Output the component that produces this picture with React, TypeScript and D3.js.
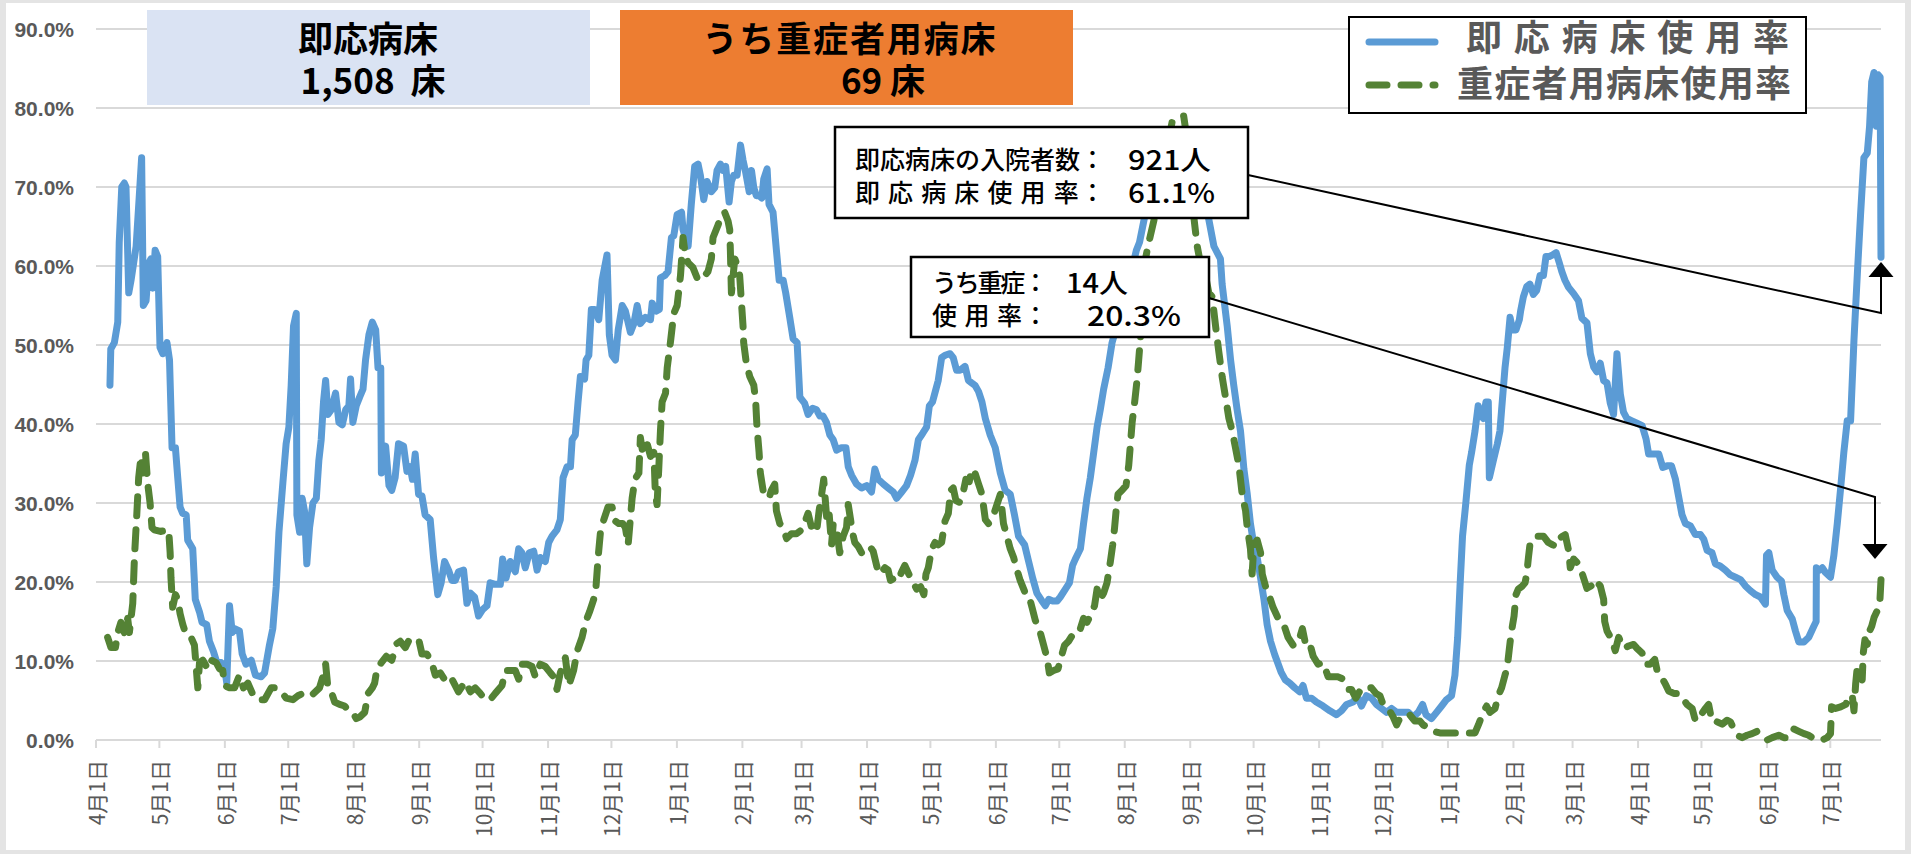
import React from 'react';
import * as d3 from 'd3';

// day offset from 2020-04-01, value in %
const START = Date.UTC(2020, 3, 1);
const DAY_MS = 864e5;
const AXIS_END_DAY = 845;

const bedRate: [number, number][] = [
  [6.6,44.9],[7,49.5],[8.7,50.3],[10.3,52.9],[11,63],[12.2,70],[13.4,70.5],[14.2,70],[15.5,56.6],[16.6,58.2],[19,62.5],[20.5,68.9],[21.6,73.7],[22.4,55],[23.7,55.6],[25,60.4],[26,60.9],[26.9,57.2],[28,62],[29.2,61.2],[30.3,49.7],[31.6,48.9],[33.6,50.3],[34.8,48.1],[36,37],[37.6,37],[38.7,33.2],[39.8,29.5],[41,28.7],[42.7,28.5],[43.4,25.3],[45.8,24.2],[47,17.8],[49,16.2],[50.2,14.9],[52.4,14.6],[53.7,12.5],[55.6,11.2],[57.2,9.8],[59.2,9.8],[60.8,9.3],[61.9,7.2],[63.2,17],[64.5,13.6],[65.6,14.1],[67.9,13.8],[69.2,10.9],[71,9.6],[73.5,10.1],[75.5,8.2],[78.2,8],[79.8,8.5],[82.1,12],[83.7,14.1],[85.3,19.4],[86.6,26.3],[88.5,32.7],[90,37.5],[91.3,39.6],[92.4,44.9],[93.5,52.4],[94.8,54],[95.1,28.5],[96.4,26.3],[97.6,30.6],[98.7,29],[99.8,22.3],[101.1,26.9],[102.7,30],[104.3,30.6],[105.5,35.4],[106.6,38],[107.7,42.8],[108.7,45.5],[109.8,41.2],[111.4,41.8],[113.4,43.9],[115,40.2],[116.6,39.9],[118.2,41.8],[119.7,42.3],[120.5,45.7],[121.6,40.2],[123.2,42.3],[124.8,43.4],[126.4,44.4],[127.6,48.1],[129.2,51.3],[130.8,52.9],[132.4,51.9],[133.5,47.1],[134.8,47.1],[135.1,33.8],[137.1,37.2],[138.7,32.2],
  [140,31.6],[141.6,33.2],[143.2,37.5],[145.6,37.2],[147.2,34],[148.7,34.6],[149.8,33],[151.1,36.2],[152.7,31.1],[154.3,30.9],[155.8,28.5],[158.2,27.9],[159.8,23.1],[161.8,18.4],[163.4,19.9],[165,22.6],[166.9,21.5],[168.5,20.2],[170.1,20.2],[171.6,21.3],[174,21.5],[175.6,17.3],[177.2,18.6],[179.2,18.1],[181.1,15.7],[183,16.5],[185.1,17],[186.6,19.9],[189,19.7],[191.4,19.7],[192.5,22.9],[194.1,20.5],[196.1,22.6],[198.5,21.3],[200.1,24.2],[201.6,23.7],[203.2,21.8],[205.1,23.7],[207.2,23.9],[208.8,21.5],[210.3,23.1],[212.7,22.6],[214.3,25],[215.9,25.8],[218.2,26.6],[219.8,27.9],[221.1,33.2],[223,34.6],[224.6,34.6],[225.4,38],[226.9,38.6],[228.2,42.8],[229.3,46],[231.3,45.7],[232,48.1],[233.3,48.7],[234.5,54.5],[236.1,54.5],[238,53.2],[239.6,58.2],[241.9,61.4],[243,51.3],[244.3,48.7],[245.9,48.1],[247.2,51.9],[249.1,55],[250.6,54.3],[253,51.6],[254.6,52.7],[256.2,55],[257.7,52.7],[260.1,53.5],[262.5,53.2],[263.3,55.3],[265.2,54.3],[266.7,54.5],[267.2,58.5],[269.3,58.8],[270.8,59.3],[272.4,63.6],[273.5,63.8],[275.1,66.5],[277.2,66.8],
  [277.9,64.6],[280.3,62.5],[281.8,67.8],[283.4,72.6],[285,72.9],[286.1,71.5],[287.7,68.4],[289.3,70.7],[291.3,69.4],[292.9,69.9],[294,72.1],[295.6,72.9],[296.8,72.1],[298.1,72.6],[299.7,68.1],[300.8,70.7],[301.9,71.5],[303.5,71.5],[305.1,75.3],[306.3,73.4],[307.6,71.8],[309.2,69.4],[310.3,72.1],[311.4,69.9],[312.6,68.9],[313.9,68.9],[315.2,68.6],[316.1,71],[317.7,72.3],[318.6,67.8],[320.5,66.8],[322.1,62],[323.4,58.2],[325.3,58.2],[326.5,56.6],[328.4,53.5],[330,50.8],[331.9,50.3],[333.2,43.4],[335.5,42.6],[337.1,41.2],[339.2,42],[341.1,41.8],[342.7,41],[344.2,41],[345.8,40.2],[347.4,38.6],[349,38],[350.6,36.7],[352.9,37],[355,37],[356.1,34.6],[357.7,33.5],[360,32.4],[362.4,31.9],[364.8,32.2],[367.1,31.4],[368.7,34.3],[370.3,33],[372.7,32.4],[375,31.9],[377.4,31.4],[379,30.6],[381.4,31.4],[383.7,32.2],[385.6,33.5],[387.7,35.4],[389.3,38],[391.3,38.8],[393.2,39.6],[394.5,42.3],[396,42.8],[397.6,44.4],[398.7,45.5],[400.3,48.4],[401.9,48.7],[404.3,48.9],[405.8,48.4],[407.4,46.8],[409,46.8],[411.4,47.3],[413,45.5],[414.5,45.2],[416.1,44.9],[417.8,44.1],[419.4,42.8],
  [421,40.7],[423.3,38.6],[425.7,37],[428.1,33.8],[430.4,31.6],[432.8,31.1],[434.8,28.5],[436.7,25.8],[439.6,24.7],[441.5,22.6],[443.4,20.5],[445.4,18.6],[447.8,17.6],[449.4,17],[451,17.8],[452.9,17.6],[455,17.6],[456.5,18.1],[458.9,19.1],[460.8,19.9],[462.3,22.1],[463.6,22.9],[466,24.2],[467.5,27.4],[469.1,30.6],[470.7,33.2],[472.3,36.4],[473.9,39.6],[475.4,41.8],[477,44.4],[479.1,47.1],[481,50.3],[485,54],[489,58],[492.5,62],[494,63],[497,67],[500,70],[503,73],[506,75],[509,76.5],[512,77],[515,76.5],[518,75],[521,72],[524,68.5],[526.5,66.3],[529.2,62.5],[532.3,60.9],[533.1,57.7],[535.5,52.4],[537.1,48.1],[538.6,44.9],[540.2,41.8],[541.8,39.1],[543.4,34.3],[545,31.1],[546.5,27.4],[548.1,24.7],[549.7,23.1],[551.3,20.5],[552.9,17.8],[554.4,14.6],[556,12.5],[558,10.8],[561,8.6],[563,7.6],[565.1,7.2],[567.5,6.6],[569.8,6.1],[571.4,6.9],[573,5.3],[575.4,5.3],[577.7,4.8],[580.9,4.3],[584.1,3.7],[587.2,3.2],[589.6,3.7],[592,4.5],[595.1,4.8],[597,5.6],[599.1,4.3],[601.4,5.6],[603.8,5.3],[606.2,4.5],[608.5,4],[610.9,3.5],[613.3,4],[615.7,3.5],[618.8,3.5],[621.2,3.5],[623.5,2.9],[625.9,3.5],[628,4.5],[629.6,3.2],[632.2,2.7],[634.6,3.5],[637,4.3],[639.3,5.1],[641.7,5.6],[643.3,8.2],[644.6,13],[645.7,19.4],[646.9,25.8],[648.5,30.1],[650.1,34.8],[651.2,36.4],[652.8,39.1],[654.3,42.3],[655.5,41.2],[656.7,40.7],[658,42.8],[659.1,42.8],[659.6,33.2],[661.5,35.4],[663.4,37.5],[664.6,39.1],[665.4,41.8],[667,47.1],[668.1,49.7],[669.4,53.5],[670.6,51.9],[672.2,51.9],[673.8,53.2],[674.4,54.3],[675.7,56.1],[677.3,57.4],[678.8,57.7],[680.4,56.4],[682,56.9],[683.6,58.8],[685.2,58.8],[686.4,61.2],[688,61.2],[689.6,61.4],[691.2,61.7],[692.7,60.4],[693.9,59.3],[695.4,58.2],
  [697.1,57.3],[699.5,56.5],[701.8,55.6],[703.4,53.4],[705.8,52.8],[707.4,48.9],[709,47.2],[710.5,46.6],[712.1,47.7],[713.7,45.5],[715.3,45.2],[716.8,42.7],[718.4,41.2],[720,48.9],[721.6,43.8],[723.1,41.5],[724.7,40.7],[727.1,40.4],[729.5,40.1],[731.9,39.8],[733.8,38.1],[735,36.2],[737.4,36.2],[739.8,36.2],[741.7,34.5],[743.7,34.7],[745.8,34.7],[747.7,33],[749.2,30.8],[750.8,28.5],[752.4,27.4],[754.8,27.1],[757.1,26],[759.5,26],[761.1,25.4],[762.7,24],[765,23.7],[766.6,22.3],[769,22],[771.4,21.5],[773.7,20.9],[776.1,20.6],[778.5,20.3],[780.8,19.5],[783.2,18.9],[785.6,18.4],[787.9,18.1],[790.3,17.2],[790.8,23.4],[791.9,23.7],[793.5,21.5],[795.8,20.6],[797.9,20.1],[799,18.4],[800.6,16.4],[803,15.3],[804.5,13.8],[806.1,12.4],[808.5,12.4],[810.8,13],[813.2,14.4],[814.3,15],[814.4,21.8],[815.9,21.5],[817.2,21.8],[818.7,21.2],[821.1,20.6],[822.7,23.4],[824.3,27.4],[825.9,31.9],[827.4,36.4],[829,40.4],[830.6,40.4],[832.2,50.6],[833.8,59],[835.3,66.4],[836.9,73.7],[838.5,74.3],[839.6,77.7],[840.6,83.3],[841.7,84.5],[842.8,77.7],[843.7,84.2],[844.6,83.9],[845,61.1]
];

const severeRate: [number, number][] = [
  [5.5,13],[7.1,11.7],[9.2,11.7],[10.3,13.6],[11.8,14.9],[13.4,13.6],[15,15.4],[15.8,13.6],[17.4,17.3],[18.2,23.1],[19.3,28.5],[20.2,33.2],[21.3,35.9],[22.1,33.8],[23.4,36.4],[24.5,32.4],[25.6,30],[26.5,26.9],[27.6,26.6],[30.5,26.4],[34.4,26.6],[35.1,23.7],[35.5,20.5],[36.3,16.8],[37.6,18.4],[38.7,17.8],[39.8,16],[41.1,14.6],[42.7,13.3],[45,13],[46.6,12],[47.4,9.3],[48.2,6.6],[49,9.8],[50.6,10.1],[52.9,9],[54.5,10.1],[56.9,9.8],[58.5,9],[60,8.8],[60.8,6.9],[63.2,6.6],[65.6,6.6],[67.9,8.2],[69.8,6.6],[71.9,7.2],[75,5.3],[77.4,5.1],[79.8,5.1],[82.9,6.6],[85.3,6.6],[87.7,6.1],[90,5.3],[93.2,5.1],[95.6,5.6],[97.9,5.9],[100.3,5.6],[101.9,5.6],[105.8,6.6],[107.4,8],[108.7,9.6],[109.8,6.6],[111.4,6.1],[113,4.8],[115.3,4.5],[117.7,4.3],[119.7,3.7],[121.6,3.5],[123.2,2.7],[124.8,2.9],[127.2,3.5],[128.8,5.9],[130.8,6.6],[131.9,7.2],[133,9],[135.1,9.8],[137.4,10.6],[140,10.1],[142.4,12.2],[144,12.5],[146.4,11.7],[147.9,12.5],[150.3,12.8],[152.7,12.8],[154.3,10.9],[156.6,10.9],[159,9.8],[160.6,8.2],[163,8.5],[166.1,7.2],[168.5,7.7],[171.6,6.1],[174.8,7.4],[177.2,6.1],[179.5,6.6],[181.9,5.9],[184.3,5.1],[186.6,5.1],[189,5.9],[192.2,6.9],[193.8,8.8],[196.1,8.8],[198.5,8.8],[200.1,7.7],[201.6,9.6],[204,9.6],[206.4,9.3],[208,8],[210.3,9.6],[212.7,9.3],[215.1,8.5],[216.7,8],[218.2,6.4],[219.8,8.5],[222.2,10.4],[223.8,6.9],[226.1,8.8],[227.7,11.2],[230.1,13],[231.7,14.9],[233.6,16.2],[235.6,17.8],[236.7,19.4],[237.7,23.1],[238.8,26.3],[240.4,27.9],[242.4,29.5],[244.3,29.5],[245.9,27.7],[247.5,27.4],[249.4,27.4],[250.6,26.9],[251.9,24.7],[253.8,30.6],[255.1,33],[257,33.8],[257.7,38.3],[258.8,36.4],[260.9,37.5],[262.5,35.9],[264.1,36.4],[264.8,31.1],[265.6,29.8],[266.4,34.3],[267.2,39.1],[268,42.8],[269.6,43.9],[270.4,47.1],[272,50.5],[273.5,54],[275.1,55],[276.7,58.8],[277.9,63.6],[278.7,62],[280.3,60.4],[282.6,59.8],[285,58.2],[287.4,58.5],[289.7,59.3],[291.3,60.9],[292.1,63.6],[294.5,65.2],[296,66.5],[297.6,66.8],[299.2,65.7],[300,64.6],[300.3,62],[300.8,56.6],[302.4,60.9],[304,59.8],[304.7,58.8],[305.5,55.6],[306.3,52.4],[306.6,50.3],[307.9,47.6],[309.5,46],[311.4,44.9],[312.3,42.8],[312.9,39.6],[313.9,36.4],[314.5,33.8],[315.8,31.6],[317.4,31.1],[318.6,30.6],[319.7,31.6],[321.3,32.4],[322.1,29],[323.7,27.4],[325.3,26.9],[326.9,25.5],[329.2,26.1],[331.6,26.1],[334,26.6],[336,27.9],[337.1,28.7],[338.7,26.9],[341.1,26.3],[342.3,29],[343.4,30.9],[344.5,33],[345.5,29.5],[346.1,27.4],[347.1,28.5],[348.2,24.7],[349,27.4],[350.5,26.9],[352.1,23.7],[353.7,25.8],[355.3,26.9],[356.1,29.8],[357.2,27.9],[358.1,26.3],[359.2,25],[360.8,24.5],[362.4,23.7],[364.8,23.9],[366.3,24.5],[367.9,23.9],[369.8,21.8],[371.1,21],[373.5,21.8],[375,21.5],[376.1,20.2],[378.2,20.5],[379.8,20.2],[381.4,21.3],[382.9,22.1],[385.3,20.7],[386.9,19.9],[388.5,19.1],[390.4,19.4],[391.9,18.4],[392.9,21],[394,21.8],[395.6,24.2],[397.2,25],[398.7,24.7],[400.3,25],[401.9,27.7],[403.5,28.7],[404.6,31.6],[405.8,31.9],[407.1,30.3],[408.7,30.1],[410.3,31.1],[411.8,33],[413.4,32.7],[414.5,34.3],[416.1,33.8],[417.8,32.4],[419.4,31.1],[421,27.9],[422.5,27.4],[424.9,28.5],[426.5,29.8],[428.1,31.1],[429.6,27.4],[431.2,25.8],[432.8,24.2],[434.4,23.1],[436,21.5],[437.5,20.2],[439.9,18.6],[441.5,18.4],[443.1,16.8],[444.6,15.2],[447,13.6],[448.6,12],[450.2,10.4],[451.3,8.5],[453.3,8.8],[455.4,9],[457,10.6],[458.5,12],[460.4,12.5],[462.3,13.3],[464.4,13.3],[466,14.1],[467.5,15.4],[469.1,14.9],[470.7,15.7],[472.7,17],[473.9,19.1],[475.4,17.8],[477,18.6],[478.6,19.9],[480.2,22.6],[481.3,24.7],[482.2,26.9],[482.9,29],[483.8,31.1],[485.7,31.6],[487.6,32.2],[488.9,34.8],[489.7,37.5],[490.5,40.2],[491.7,42.8],[492.8,45.5],[493.6,48.1],[494.4,50.8],[496.8,60.9],[498.4,63],[501,66],[504,70],[507,75],[509.4,78.2],[511,78.5],[513.4,79],[514.9,79],[516.5,76],[518,71],[519.7,66.2],[521.3,62.5],[522.8,60.4],[525.2,58.8],[526.8,56.6],[528.4,56.1],[530,52.4],[531.5,49.2],[533.1,46],[534.7,43.4],[536.3,40.7],[537.9,39.1],[539.4,37],[541,34.8],[542.6,31.1],[544.2,29],[545,26.9],[546.5,24.2],[547.3,21],[548.1,24.7],[549.7,25.3],[551.3,23.7],[552.1,21],[553.7,19.4],[555.2,18.4],[557.2,16.8],[559.6,15.4],[561.9,14.9],[564.3,13],[566.7,12],[569,12.2],[571.1,14.1],[572.7,12],[574.6,12.2],[576.2,10.6],[578.5,9.6],[580.9,9.8],[583.3,8],[585.6,8],[588,8],[590.4,7.7],[592.7,6.4],[594.3,6.4],[596.4,5.3],[599.1,6.6],[601.4,6.6],[603.8,6.6],[605.9,5.9],[607.8,5.6],[609.3,4.5],[611.7,4],[614.1,2.9],[615.7,1.9],[617.5,2.9],[619.6,2.9],[621.9,3.2],[624.3,2.4],[626.7,2.4],[628.3,1.9],[630.7,1.6],[633,1.1],[636.2,0.9],[639.3,0.9],[642.5,0.9],[644.9,0.9],[650.4,0.9],[652.8,0.9],[654.4,1.9],[656.7,3.5],[658.3,4.3],[659.9,3.5],[662.3,4],[663.8,5.6],[665.4,6.6],[667,8.2],[668.1,9.3],[669,11.4],[669.7,13],[670.6,14.6],[671.3,15.7],[672.2,18.4],[673.3,19.1],[674.9,19.4],[676.5,19.9],[677.3,21],[678.1,23.1],[678.8,24.7],[680.4,25.5],[682,25.8],[683.6,25.8],[685.2,25.8],[687.5,25],[689.6,24.7],[691.2,24.5],[692.7,25.5],[694.3,25.8],[695.5,26],[697.1,24],[697.9,21.8],[699.5,22.9],[701.8,22.3],[703.4,21.2],[705.8,19.2],[707.8,19.5],[709.7,20.3],[712.1,19.5],[713.7,17.8],[714.2,15],[715.3,13.8],[717.6,12.7],[719.2,11.3],[720.8,13],[723.2,11.6],[725.5,11.9],[727.9,12.1],[729.5,11.6],[731.9,11],[733.4,9.6],[735.8,9.6],[737.9,10.2],[739,8.8],[740.5,8.2],[742.9,7.1],[744.5,6.2],[746.9,5.9],[749.2,5.9],[751.6,5.1],[753.2,4.5],[755.6,4],[757.1,2.5],[758.7,2.5],[760.3,3.4],[761.9,4],[763.4,4.5],[765,2.3],[767.4,2.3],[769.8,2],[772.1,2.5],[773.7,2.3],[775.3,1.4],[776.9,0.6],[779.3,0.3],[781.6,0.6],[784,0.8],[786.4,1.1],[788.7,0.6],[791.1,0],[793.5,0.3],[796.6,0.6],[799,0.3],[801.4,0.3],[803.7,1.4],[806.1,1.1],[808.5,0.8],[810.8,0.6],[814,0],[817.2,0],[819.5,0.3],[821.1,0.8],[821.6,4.2],[823.5,4],[825.9,4.2],[828.3,4.5],[829.8,5.6],[831.4,5.6],[832.2,3.7],[833,7.1],[833.8,9.3],[834.5,8.8],[836.1,7.6],[836.6,11],[837.4,12.7],[838.5,12.1],[839.6,13.8],[840.6,14.4],[841.7,15.5],[843.3,16.4],[844.4,17.2],[845,20.3]
];

const yTicks = [0, 10, 20, 30, 40, 50, 60, 70, 80, 90];
const legendLabels = ['即 応 病 床 使 用 率', '重症者用病床使用率'];
const bedsTotal = ['即応病床', '1,508\u00a0\u00a0床'];
const bedsSevere = ['うち重症者用病床', '69 床'];
const note1Labels = ['即応病床の入院者数：', '即 応 病 床 使 用 率：'];
const note1Values = ['921人', '61.1%'];
const note2Labels = ['うち重症：', '使  用  率：'];
const note2Values = ['14人', '20.3%'];

const JP = "'Noto Sans CJK JP', 'Noto Sans', sans-serif";
const BLUE = '#5b9bd5';
const GREEN = '#548235';
const GRID = '#d9d9d9';
const TEXT_GRAY = '#595959';

export default function App() {
  const toDate = (d: number) => new Date(START + d * DAY_MS);
  const x = d3.scaleUtc().domain([toDate(0), toDate(AXIS_END_DAY)]).range([96, 1881]);
  const y = d3.scaleLinear().domain([0, 90]).range([740, 29]);
  const line = d3.line<[number, number]>().x(d => x(toDate(d[0]))).y(d => y(d[1]));
  const months = d3.utcMonth.range(toDate(0), toDate(AXIS_END_DAY));
  const [x0, x1] = x.range();

  const arrowUp = (cx: number, tip: number) => `${cx},${tip} ${cx - 12.5},${tip + 15} ${cx + 12.5},${tip + 15}`;
  const arrowDown = (cx: number, tip: number) => `${cx},${tip} ${cx - 12.5},${tip - 15} ${cx + 12.5},${tip - 15}`;

  return (
    <svg width={1911} height={854} style={{ position: 'absolute', left: 0, top: 0, display: 'block' }}>
      <rect x={0} y={0} width={1911} height={854} fill="#e4e4e4" />
      <rect x={6} y={3} width={1899} height={847} fill="#ffffff" />

      {/* gridlines */}
      {yTicks.map(t => (
        <line key={t} x1={x0} x2={x1} y1={y(t)} y2={y(t)} stroke={GRID} strokeWidth={2} />
      ))}
      {months.map((m, i) => (
        <line key={i} x1={x(m)} x2={x(m)} y1={y(0)} y2={y(0) + 8} stroke={GRID} strokeWidth={2} />
      ))}

      {/* y labels */}
      {yTicks.map(t => (
        <text key={t} x={74} y={y(t) + 7.5} textAnchor="end" fontFamily="'Liberation Sans', Arial, sans-serif"
          fontWeight={700} fontSize={21} fill={TEXT_GRAY}>{t.toFixed(1)}%</text>
      ))}

      {/* x labels */}
      {months.map((m, i) => (
        <text key={i} transform={`translate(${x(m)},760) rotate(-90)`} textAnchor="end" dominantBaseline="central"
          fontFamily={JP} fontSize={21} fill={TEXT_GRAY}>{`${m.getUTCMonth() + 1}月1日`}</text>
      ))}

      {/* series */}
      <path d={line(bedRate) || ''} fill="none" stroke={BLUE} strokeWidth={7} strokeLinejoin="round" strokeLinecap="round" />
      <path d={line(severeRate) || ''} fill="none" stroke={GREEN} strokeWidth={7} strokeLinejoin="round" strokeLinecap="round" strokeDasharray="19 14" />

      {/* top boxes */}
      <rect x={147} y={10} width={443} height={95} fill="#dae3f3" />
      <text fontFamily={JP} fontWeight={700} fontSize={35} fill="#000" textAnchor="middle">
        <tspan x={368} y={52}>{bedsTotal[0]}</tspan>
        <tspan x={373} y={94}>{bedsTotal[1]}</tspan>
      </text>
      <rect x={620} y={10} width={453} height={95} fill="#ed7d31" />
      <text fontFamily={JP} fontWeight={700} fontSize={35} fill="#000" textAnchor="middle">
        <tspan x={849} y={52} textLength={293} lengthAdjust="spacing">{bedsSevere[0]}</tspan>
        <tspan x={883} y={94}>{bedsSevere[1]}</tspan>
      </text>

      {/* legend */}
      <rect x={1349} y={17} width={457} height={96} fill="#fff" stroke="#000" strokeWidth={2} />
      <line x1={1369} x2={1435} y1={42} y2={42} stroke={BLUE} strokeWidth={7} strokeLinecap="round" />
      <line x1={1369} x2={1435} y1={85} y2={85} stroke={GREEN} strokeWidth={7} strokeLinecap="round" strokeDasharray="18 14" />
      <text x={1466} y={51} fontFamily={JP} fontWeight={700} fontSize={36} fill={TEXT_GRAY} textLength={323} lengthAdjust="spacing">{legendLabels[0]}</text>
      <text x={1457} y={97} fontFamily={JP} fontWeight={700} fontSize={36} fill={TEXT_GRAY} textLength={334} lengthAdjust="spacing">{legendLabels[1]}</text>

      {/* connectors */}
      <polyline points="1248,175 1881,313 1881,276" fill="none" stroke="#000" strokeWidth={2} />
      <polygon points={arrowUp(1881, 262)} fill="#000" />
      <polyline points="1209,298 1875,497 1875,546" fill="none" stroke="#000" strokeWidth={2} />
      <polygon points={arrowDown(1875, 559)} fill="#000" />

      {/* annotation 1 */}
      <rect x={835} y={127} width={413} height={91} fill="#fff" stroke="#000" strokeWidth={2.5} />
      <text fontFamily={JP} fontWeight={500} fill="#000">
        <tspan x={855} y={169} fontSize={25} textLength={250} lengthAdjust="spacing">{note1Labels[0]}</tspan>
        <tspan x={1128} y={170} fontSize={27} textLength={83} lengthAdjust="spacingAndGlyphs">{note1Values[0]}</tspan>
        <tspan x={855} y={202} fontSize={25} textLength={250} lengthAdjust="spacing">{note1Labels[1]}</tspan>
        <tspan x={1128} y={203} fontSize={27} textLength={87} lengthAdjust="spacingAndGlyphs">{note1Values[1]}</tspan>
      </text>

      {/* annotation 2 */}
      <rect x={911} y={257} width={298} height={80} fill="#fff" stroke="#000" strokeWidth={2.5} />
      <text fontFamily={JP} fontWeight={500} fill="#000">
        <tspan x={932} y={292} fontSize={25} textLength={116} lengthAdjust="spacing">{note2Labels[0]}</tspan>
        <tspan x={1066} y={293} fontSize={27} textLength={62} lengthAdjust="spacingAndGlyphs">{note2Values[0]}</tspan>
        <tspan x={932} y={325} fontSize={25} textLength={116} lengthAdjust="spacing">{note2Labels[1]}</tspan>
        <tspan x={1087} y={326} fontSize={27} textLength={94} lengthAdjust="spacingAndGlyphs">{note2Values[1]}</tspan>
      </text>
    </svg>
  );
}
